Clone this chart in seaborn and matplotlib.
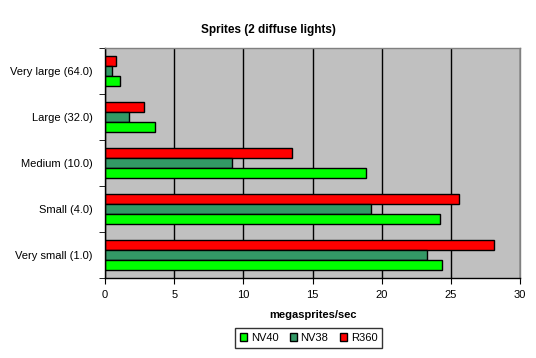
import numpy as np
import pandas as pd
import matplotlib.pyplot as plt
import seaborn as sns

# Data
sizes = ["Very large (64.0)", "Large (32.0)", "Medium (10.0)", "Small (4.0)", "Very small (1.0)"]
nv40 = [1.05, 3.6, 18.9, 24.25, 24.35]
nv38 = [0.5, 1.7, 9.15, 19.2, 23.3]
r360 = [0.8, 2.8, 13.55, 25.6, 28.1]

df = pd.DataFrame({
    "Size": sizes * 3,
    "Card": ["NV40"] * 5 + ["NV38"] * 5 + ["R360"] * 5,
    "Speed": nv40 + nv38 + r360,
})

palette = {"NV40": "#00FF00", "NV38": "#339966", "R360": "#FF0000"}

sns.set_style("white")
plt.rcParams["font.family"] = ["Liberation Sans", "DejaVu Sans"]
plt.rcParams["text.color"] = "black"
plt.rcParams["xtick.color"] = "black"
plt.rcParams["ytick.color"] = "black"
plt.rcParams["axes.labelcolor"] = "black"

fig = plt.figure(figsize=(5.36, 3.58), dpi=100)
ax = fig.add_axes([105 / 536, 1 - 278 / 358, 415 / 536, 230 / 358])
ax.set_facecolor("#C0C0C0")

sns.barplot(data=df, y="Size", x="Speed", hue="Card", order=sizes,
            hue_order=["R360", "NV38", "NV40"], palette=palette, saturation=1,
            orient="h", width=0.66, gap=0, edgecolor="black", linewidth=1,
            ax=ax, legend=True)

ax.set_xlim(0, 30)
ax.set_xticks(range(0, 31, 5))
ax.xaxis.grid(True, color="black", linewidth=1)
ax.set_axisbelow(True)
ax.tick_params(axis="x", labelsize=8, length=4, direction="out", bottom=True, pad=5)
ax.tick_params(axis="y", labelsize=8, length=0, pad=9)
ax.set_yticks(np.arange(-0.5, 5, 1.0), minor=True)
ax.tick_params(axis="y", which="minor", length=4, direction="out", left=True)
ax.set_ylim(4.5, -0.5)

ax.set_ylabel("")
ax.set_xlabel("megasprites/sec", fontsize=8, fontweight="bold", labelpad=7)
fig.suptitle("Sprites (2 diffuse lights)", fontsize=8.5, fontweight="bold", y=0.934)

for s in ["left", "bottom"]:
    ax.spines[s].set_color("black")
    ax.spines[s].set_linewidth(1)
for s in ["top", "right"]:
    ax.spines[s].set_color("#808080")
    ax.spines[s].set_linewidth(1)

handles, labels = ax.get_legend_handles_labels()
order = [labels.index(l) for l in ["NV40", "NV38", "R360"]]
ax.legend([handles[i] for i in order], [labels[i] for i in order],
          loc="upper center", bbox_to_anchor=(0.5 - 4 / 415, -50 / 230), ncol=3,
          fontsize=8, frameon=True, fancybox=False, edgecolor="black",
          handlelength=0.7, handleheight=0.7, handletextpad=0.3,
          columnspacing=1.0, borderpad=0.45, borderaxespad=0)

fig.savefig("out.png", dpi=100)
